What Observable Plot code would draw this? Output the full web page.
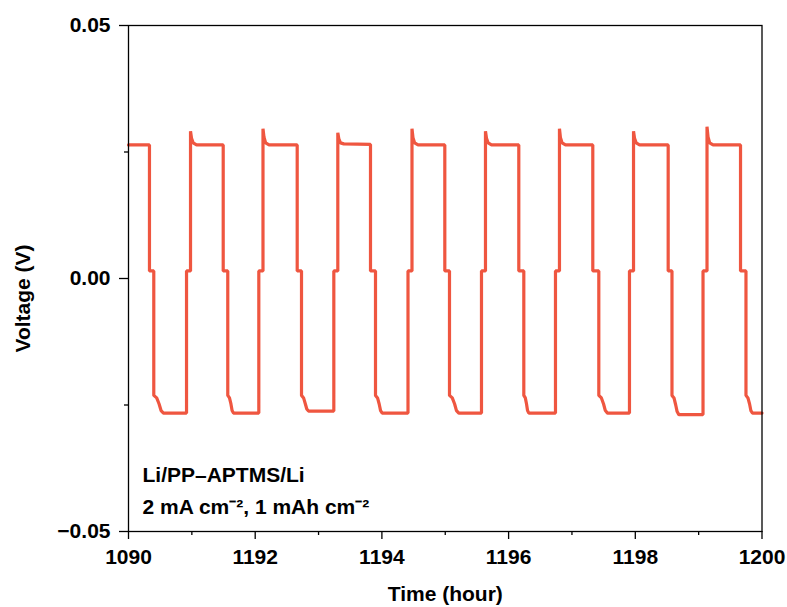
<!DOCTYPE html>
<html>
<head>
<meta charset="utf-8">
<script src="https://cdn.jsdelivr.net/npm/d3@7"></script>
<script src="https://cdn.jsdelivr.net/npm/@observablehq/plot@0.6"></script>
<style>
  html, body { margin: 0; padding: 0; background: #fff; }
</style>
</head>
<body>
<div id="chart"></div>
<script>
// ---- data ----
const time = [
  1190.000, 1190.331, 1190.331, 1190.399, 1190.399, 1190.445, 1190.483, 1190.514, 1190.552, 1190.916,
  1190.916, 1190.979, 1190.979, 1190.995, 1191.021, 1191.074, 1191.495, 1191.495, 1191.567, 1191.567,
  1191.594, 1191.617, 1191.635, 1191.657, 1192.057, 1192.057, 1192.123, 1192.123, 1192.139, 1192.165,
  1192.218, 1192.663, 1192.663, 1192.731, 1192.731, 1192.764, 1192.792, 1192.814, 1192.841, 1193.241,
  1193.241, 1193.304, 1193.304, 1193.320, 1193.346, 1193.399, 1193.820, 1193.820, 1193.899, 1193.899,
  1193.931, 1193.957, 1193.979, 1194.005, 1194.412, 1194.412, 1194.475, 1194.475, 1194.491, 1194.517,
  1194.570, 1194.993, 1194.993, 1195.067, 1195.067, 1195.111, 1195.148, 1195.177, 1195.214, 1195.572,
  1195.572, 1195.635, 1195.635, 1195.651, 1195.677, 1195.730, 1196.161, 1196.161, 1196.240, 1196.240,
  1196.264, 1196.283, 1196.299, 1196.319, 1196.740, 1196.740, 1196.803, 1196.803, 1196.819, 1196.845,
  1196.898, 1197.329, 1197.329, 1197.424, 1197.424, 1197.465, 1197.499, 1197.527, 1197.561, 1197.908,
  1197.908, 1197.972, 1197.972, 1197.988, 1198.014, 1198.067, 1198.519, 1198.519, 1198.579, 1198.579,
  1198.611, 1198.638, 1198.660, 1198.687, 1199.069, 1199.069, 1199.132, 1199.132, 1199.148, 1199.174,
  1199.227, 1199.661, 1199.661, 1199.747, 1199.747, 1199.778, 1199.804, 1199.824, 1199.850, 1200.000
];
const voltage = [
  0.0264, 0.0264, 0.0015, 0.0015, -0.0231, -0.0236, -0.0248, -0.0261, -0.0266, -0.0266,
  0.0015, 0.0015, 0.0291, 0.0277, 0.0268, 0.0264, 0.0264, 0.0015, 0.0015, -0.0231,
  -0.0236, -0.0248, -0.0261, -0.0266, -0.0266, 0.0015, 0.0015, 0.0296, 0.0279, 0.0268,
  0.0264, 0.0264, 0.0015, 0.0015, -0.0231, -0.0236, -0.0248, -0.0258, -0.0262, -0.0262,
  0.0015, 0.0015, 0.0288, 0.0276, 0.0268, 0.0266, 0.0265, 0.0015, 0.0015, -0.0231,
  -0.0236, -0.0248, -0.0261, -0.0266, -0.0266, 0.0015, 0.0015, 0.0296, 0.0278, 0.0268,
  0.0264, 0.0264, 0.0015, 0.0015, -0.0231, -0.0236, -0.0248, -0.0261, -0.0266, -0.0266,
  0.0015, 0.0015, 0.0291, 0.0277, 0.0268, 0.0264, 0.0264, 0.0015, 0.0015, -0.0231,
  -0.0236, -0.0248, -0.0261, -0.0266, -0.0266, 0.0015, 0.0015, 0.0296, 0.0278, 0.0268,
  0.0264, 0.0264, 0.0015, 0.0015, -0.0231, -0.0236, -0.0248, -0.0261, -0.0266, -0.0266,
  0.0015, 0.0015, 0.0291, 0.0277, 0.0268, 0.0264, 0.0264, 0.0015, 0.0015, -0.0231,
  -0.0236, -0.0250, -0.0263, -0.0269, -0.0269, 0.0015, 0.0015, 0.0300, 0.0280, 0.0268,
  0.0264, 0.0264, 0.0015, 0.0015, -0.0231, -0.0236, -0.0248, -0.0261, -0.0266, -0.0266
];

const xMajorTicks = [1190, 1192, 1194, 1196, 1198, 1200];
const xTickLabels = ["1090", "1192", "1194", "1196", "1198", "1200"];
const xMinorTicks = [1191, 1193, 1195, 1197, 1199];
const yMajorTicks = [-0.05, 0, 0.05];
const yTickLabels = ["\u22120.05", "0.00", "0.05"];
const yMinorTicks = [-0.025, 0.025];
const xTitle = "Time (hour)";
const yTitle = "Voltage (V)";
const annotation = ["Li/PP\u2013APTMS/Li", "2 mA cm\u207B\u00B2, 1 mAh cm\u207B\u00B2"];

// ---- chart ----
const points = time.map((t, i) => ({t, v: voltage[i]}));
const lineColor = "#EF5640";

const chart = Plot.plot({
  width: 787,
  height: 607,
  marginLeft: 128,
  marginRight: 25.5,
  marginTop: 25,
  marginBottom: 76,
  style: {
    fontFamily: "'Liberation Sans', Arial, sans-serif",
    fontSize: "21px",
    fontWeight: "bold",
    color: "black",
    background: "white"
  },
  x: {domain: [1190, 1200]},
  y: {domain: [-0.05, 0.05]},
  marks: [
    Plot.line(points, {x: "t", y: "v", stroke: lineColor, strokeWidth: 3.2, strokeLinejoin: "miter"}),
    Plot.frame({stroke: "black", strokeWidth: 1.3}),
    Plot.axisX({anchor: "bottom", ticks: xMajorTicks, tickSize: 8, tickPadding: 10, strokeWidth: 1.3,
      tickFormat: d => xTickLabels[xMajorTicks.indexOf(d)], label: null}),
    Plot.axisX({anchor: "bottom", ticks: xMinorTicks, tickSize: 4, strokeWidth: 1.3,
      tickFormat: () => "", label: null}),
    Plot.axisY({anchor: "left", ticks: yMajorTicks, tickSize: 9, tickPadding: 9, strokeWidth: 1.3,
      tickFormat: d => yTickLabels[yMajorTicks.indexOf(d)], label: null}),
    Plot.axisY({anchor: "left", ticks: yMinorTicks, tickSize: 4, strokeWidth: 1.3,
      tickFormat: () => "", label: null}),
    Plot.text([xTitle], {frameAnchor: "bottom", text: d => d, dy: 63, textAnchor: "middle", lineAnchor: "middle"}),
    Plot.text([yTitle], {frameAnchor: "left", text: d => d, dx: -105, dy: 20, rotate: -90, textAnchor: "middle", lineAnchor: "middle"}),
    Plot.text([annotation[0]], {frameAnchor: "bottom-left", text: d => d, dx: 14, dy: -56, textAnchor: "start", lineAnchor: "middle"}),
    Plot.text([annotation[1]], {frameAnchor: "bottom-left", text: d => d, dx: 14, dy: -24, textAnchor: "start", lineAnchor: "middle"})
  ]
});
document.getElementById("chart").appendChild(chart);
</script>
</body>
</html>
